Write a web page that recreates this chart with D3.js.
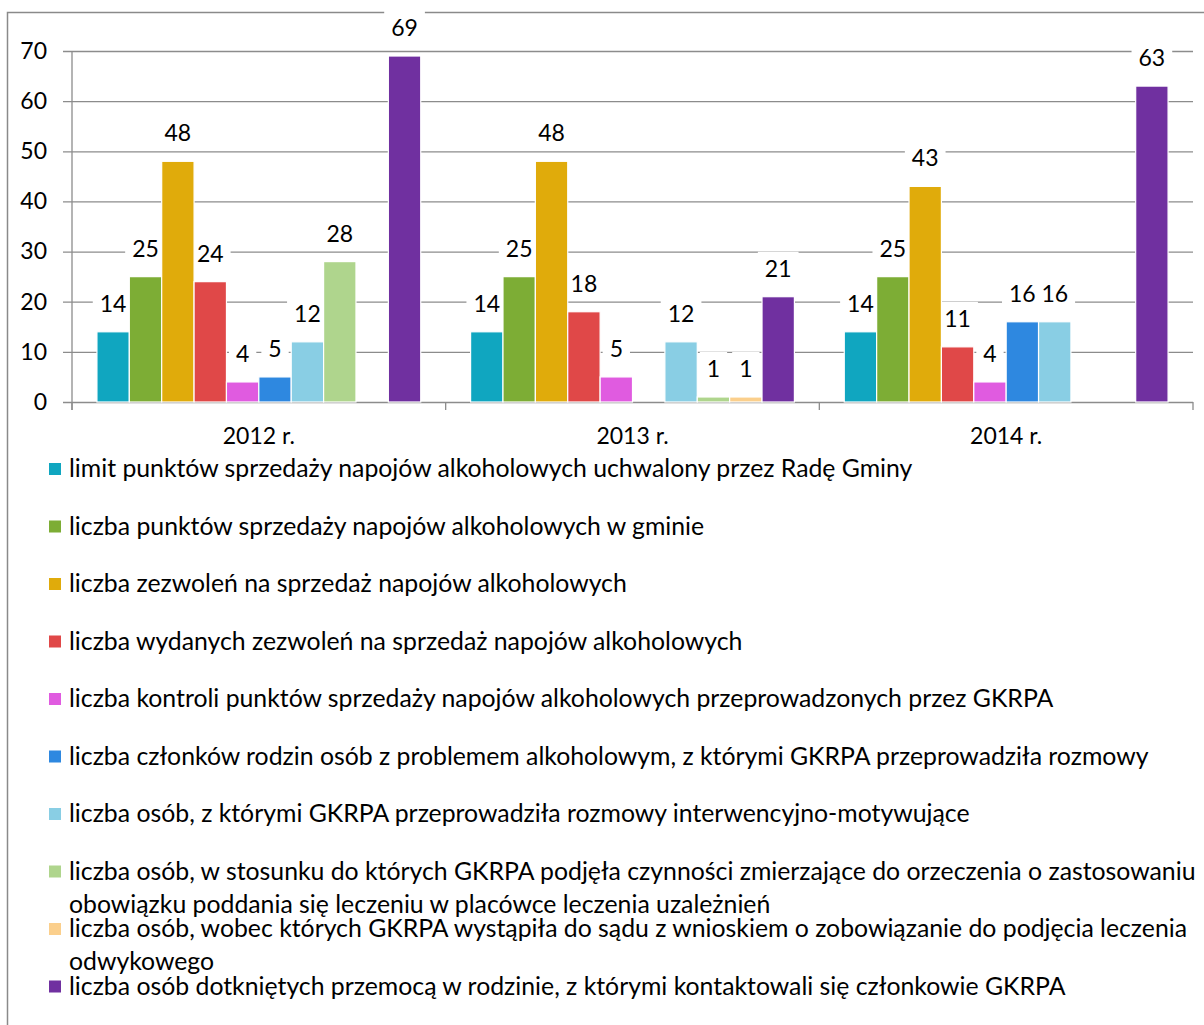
<!DOCTYPE html>
<html>
<head>
<meta charset="utf-8">
<script src="https://d3js.org/d3.v7.min.js"></script>
<style>
    html, body { margin: 0; padding: 0; background: #fff; }
    svg { display: block; font-family: Lato, "Open Sans", sans-serif; }
</style>
</head>
<body>
<div id="graph-01"></div>
<script>
// chart data
var YEARS = ['2012 r.', '2013 r.', '2014 r.'];

var SERIES = [
    'limit punktów sprzedaży napojów alkoholowych uchwalony przez Radę Gminy',
    'liczba punktów sprzedaży napojów alkoholowych w gminie',
    'liczba zezwoleń na sprzedaż napojów alkoholowych',
    'liczba wydanych zezwoleń na sprzedaż napojów alkoholowych',
    'liczba kontroli punktów sprzedaży napojów alkoholowych przeprowadzonych przez GKRPA',
    'liczba członków rodzin osób z problemem alkoholowym, z którymi GKRPA przeprowadziła rozmowy',
    'liczba osób, z którymi GKRPA przeprowadziła rozmowy interwencyjno-motywujące',
    'liczba osób, w stosunku do których GKRPA podjęła czynności zmierzające do orzeczenia o zastosowaniu|obowiązku poddania się leczeniu w placówce leczenia uzależnień',
    'liczba osób, wobec których GKRPA wystąpiła do sądu z wnioskiem o zobowiązanie do podjęcia leczenia|odwykowego',
    'liczba osób dotkniętych przemocą w rodzinie, z którymi kontaktowali się członkowie GKRPA'
];

// one array per year, in series order (null = no bar)
var VALUES_2012 = [14, 25, 48, 24, 4, 5, 12, 28, null, 69];
var VALUES_2013 = [14, 25, 48, 18, 5, null, 12, 1, 1, 21];
var VALUES_2014 = [14, 25, 43, 11, 4, 16, 16, null, null, 63];

var Y_TICKS = [0, 10, 20, 30, 40, 50, 60, 70];

var COLORS = ['#10a6c0', '#7dad35', '#e0ab0b', '#e04848', '#e05be0',
              '#2e88e0', '#89cee4', '#afd58d', '#fbcf8c', '#7030a0'];

(function(){
    var WIDTH           = 1204,
        HEIGHT          = 1025,

        PLOT_LEFT       = 72,
        PLOT_RIGHT      = 1193,
        PLOT_TOP        = 51,
        PLOT_BOTTOM     = 402,

        LEGEND_Y        = 477,
        LEGEND_STEP     = 57.5,
        WRAP_STEP       = 33,

        GRID_COLOR      = '#8c8c8c',
        FONT_SIZE       = 23,
        LEGEND_FONT     = 24.8;

    var rows = [VALUES_2012, VALUES_2013, VALUES_2014];

    var svg = d3.select('div#graph-01')
        .append('svg')
        .attr('width', WIDTH)
        .attr('height', HEIGHT);

    // outer chart frame (runs past the picture on the right and bottom)
    svg.append('rect')
        .attr('x', 7.5).attr('y', 12.5)
        .attr('width', WIDTH + 50).attr('height', HEIGHT + 50)
        .attr('fill', '#fff')
        .attr('stroke', '#8a8a8a')
        .attr('stroke-width', 1.5);

    var x0 = d3.scaleBand()
        .domain(YEARS)
        .range([PLOT_LEFT, PLOT_RIGHT])
        .padding(0);

    var x1 = d3.scaleBand()
        .domain(d3.range(SERIES.length))
        .range([0, x0.bandwidth()])
        .paddingInner(0)
        .paddingOuter(0.77);

    var y = d3.scaleLinear()
        .domain([0, 70])
        .range([PLOT_BOTTOM, PLOT_TOP]);

    // gridlines + y axis
    var yAxis = d3.axisLeft(y)
        .tickValues(Y_TICKS)
        .tickSize(-(PLOT_RIGHT - PLOT_LEFT + 9))
        .tickPadding(16);

    var gy = svg.append('g')
        .attr('transform', 'translate(' + (PLOT_LEFT - 9) + ',0)')
        .call(yAxis);
    gy.select('.domain').remove();
    gy.selectAll('.tick line')
        .attr('stroke', GRID_COLOR)
        .attr('stroke-width', 1.3);
    gy.selectAll('.tick text')
        .attr('font-size', FONT_SIZE)
        .attr('fill', '#000')
        .attr('font-family', 'Lato');

    // vertical axis line
    svg.append('line')
        .attr('x1', PLOT_LEFT).attr('x2', PLOT_LEFT)
        .attr('y1', PLOT_TOP).attr('y2', PLOT_BOTTOM + 8)
        .attr('stroke', GRID_COLOR)
        .attr('stroke-width', 1.3);

    // x axis with ticks at category boundaries
    var bounds = YEARS.map(function(d){ return x0(d); }).concat([PLOT_RIGHT]);
    svg.append('g').selectAll('line')
        .data(bounds)
        .enter().append('line')
        .attr('x1', function(d){ return d; })
        .attr('x2', function(d){ return d; })
        .attr('y1', PLOT_BOTTOM)
        .attr('y2', PLOT_BOTTOM + 8)
        .attr('stroke', GRID_COLOR)
        .attr('stroke-width', 1.3);

    svg.append('g').selectAll('text')
        .data(YEARS)
        .enter().append('text')
        .attr('x', function(d){ return x0(d) + x0.bandwidth() / 2; })
        .attr('y', PLOT_BOTTOM + 42)
        .attr('text-anchor', 'middle')
        .attr('font-size', FONT_SIZE)
        .text(function(d){ return d; });

    // flatten to one record per drawn bar
    var cells = [];
    rows.forEach(function(vals, gi){
        vals.forEach(function(v, si){
            if(v === null) return;
            cells.push({ year: YEARS[gi], s: si, v: v });
        });
    });

    function cx(d){ return x0(d.year) + x1(d.s) + x1.bandwidth() / 2; }

    // white boxes behind labels go under the bars so they only cut gridlines
    var boxG = svg.append('g').attr('class', 'label-boxes');

    var barG = svg.append('g').attr('class', 'bars');
    barG.selectAll('rect')
        .data(cells)
        .enter().append('rect')
        .attr('x', function(d){ return x0(d.year) + x1(d.s); })
        .attr('y', function(d){ return y(d.v); })
        .attr('width', x1.bandwidth())
        .attr('height', function(d){ return y(0) - y(d.v); })
        .attr('fill', function(d){ return COLORS[d.s]; })
        .attr('stroke', '#fff')
        .attr('stroke-width', 1.2);

    var labels = svg.append('g').attr('class', 'labels')
        .selectAll('text')
        .data(cells)
        .enter().append('text')
        .attr('x', cx)
        .attr('y', function(d){ return y(d.v) - 20; })
        .attr('text-anchor', 'middle')
        .attr('font-size', FONT_SIZE)
        .text(function(d){ return d.v; });

    labels.each(function(){
        var bb = this.getBBox();
        boxG.append('rect')
            .attr('x', bb.x - 7).attr('y', bb.y - 2)
            .attr('width', bb.width + 14).attr('height', bb.height + 6)
            .attr('fill', '#fff');
    });

    // legend
    var leg = svg.append('g').attr('class', 'legend')
        .selectAll('g')
        .data(SERIES)
        .enter().append('g')
        .attr('transform', function(d, i){
            return 'translate(0,' + (LEGEND_Y + i * LEGEND_STEP) + ')';
        });

    leg.append('rect')
        .attr('x', 49).attr('y', -14)
        .attr('width', 12).attr('height', 12)
        .attr('fill', function(d, i){ return COLORS[i]; });

    leg.selectAll('text')
        .data(function(d){ return d.split('|'); })
        .enter().append('text')
        .attr('x', 69)
        .attr('y', function(d, j){ return j * WRAP_STEP; })
        .attr('font-size', LEGEND_FONT)
        .text(function(d){ return d; });

})();
</script>
</body>
</html>
